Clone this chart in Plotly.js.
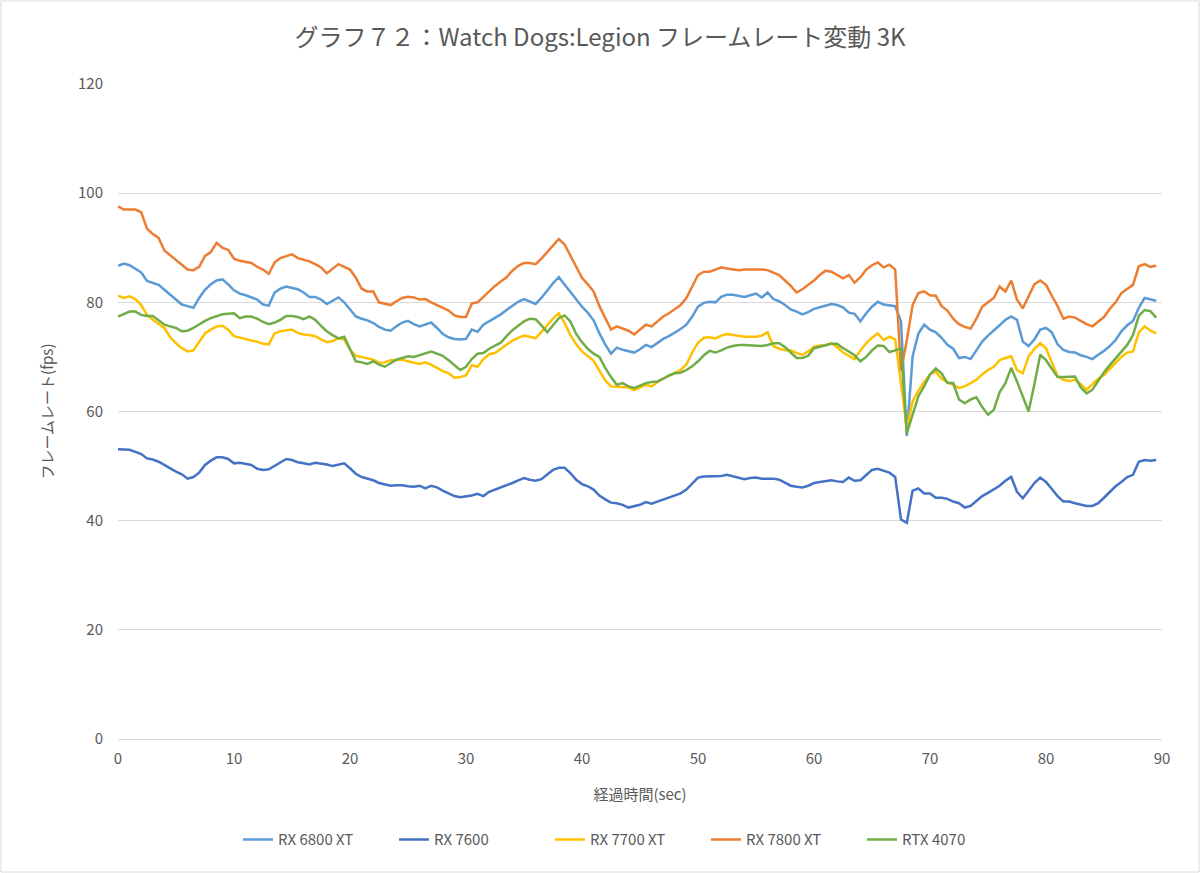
<!DOCTYPE html>
<html>
<head>
<meta charset="utf-8">
<script src="https://cdn.plot.ly/plotly-3.0.1.min.js"></script>
<style>
  html, body { margin: 0; padding: 0; background: #fff; }
  #chart { width: 1200px; height: 873px; }
</style>
</head>
<body>
<div id="chart"></div>
<script>
// Time axis: samples every 0.5 s, from 0 to 89.5 s
const sampleCount = 180;
const sampleStep = 0.5;

const seriesNames = ["RX 6800 XT", "RX 7600", "RX 7700 XT", "RX 7800 XT", "RTX 4070"];

const rx6800xt = [
86.7,87.1,86.8,86.2,85.5,83.9,83.5,83.2,82.3,81.4,
80.6,79.6,79.3,79.0,80.8,82.3,83.3,84.0,84.2,83.3,
82.2,81.6,81.3,80.9,80.5,79.6,79.4,81.8,82.5,82.9,
82.6,82.4,81.8,81.0,81.0,80.5,79.7,80.3,80.9,80.0,
78.8,77.4,77.0,76.7,76.2,75.5,75.0,74.8,75.6,76.3,
76.6,76.0,75.6,75.9,76.3,75.3,74.2,73.6,73.3,73.2,
73.3,75.0,74.6,75.9,76.5,77.2,77.8,78.6,79.4,80.1,
80.6,80.2,79.7,80.8,82.2,83.5,84.6,83.2,81.8,80.5,
79.2,78.1,76.7,74.3,72.3,70.6,71.7,71.3,71.0,70.8,
71.4,72.2,71.8,72.6,73.3,73.8,74.4,75.1,75.9,77.4,
79.2,79.9,80.1,80.0,81.0,81.4,81.4,81.2,81.0,81.3,
81.6,80.9,81.8,80.6,80.2,79.5,78.7,78.3,77.8,78.2,
78.8,79.1,79.4,79.7,79.5,79.1,78.1,77.9,76.5,78.0,
79.2,80.1,79.6,79.4,79.3,76.5,55.5,70.1,74.3,75.9,
75.0,74.5,73.5,72.2,71.5,69.8,70.0,69.6,71.2,72.8,
73.9,74.8,75.8,76.8,77.4,76.8,72.8,72.0,73.2,75.0,
75.3,74.5,72.3,71.3,70.9,70.8,70.3,70.0,69.6,70.4,
71.1,72.0,73.1,74.7,75.8,76.6,79.0,80.8,80.6,80.3
];

const rx7600 = [
53.1,53.1,53.0,52.6,52.2,51.4,51.2,50.8,50.2,49.5,
49.0,48.5,47.7,48.0,48.8,50.2,51.0,51.6,51.6,51.3,
50.5,50.6,50.4,50.2,49.5,49.3,49.4,50.0,50.6,51.3,
51.1,50.7,50.5,50.3,50.6,50.5,50.3,50.0,50.3,50.5,
49.6,48.6,48.0,47.7,47.4,46.9,46.6,46.4,46.5,46.5,
46.3,46.2,46.4,45.9,46.4,46.1,45.5,45.0,44.5,44.3,
44.4,44.6,44.9,44.5,45.3,45.7,46.1,46.4,46.9,47.4,
47.8,47.5,47.3,47.6,48.4,49.3,49.7,49.7,48.7,47.5,
46.7,46.3,45.7,44.6,43.9,43.3,43.2,42.9,42.4,42.7,
42.9,43.4,43.1,43.5,43.9,44.3,44.6,45.0,45.7,46.8,
47.9,48.1,48.1,48.1,48.2,48.4,48.1,47.8,47.6,47.8,
47.9,47.7,47.7,47.7,47.5,47.0,46.4,46.2,46.1,46.4,
46.9,47.1,47.3,47.4,47.2,47.1,47.9,47.3,47.4,48.3,
49.3,49.5,49.1,48.8,48.0,40.2,39.6,45.5,45.9,45.0,
45.0,44.2,44.2,44.0,43.5,43.2,42.4,42.7,43.6,44.5,
45.1,45.7,46.4,47.3,48.0,45.3,44.1,45.5,46.9,47.9,
47.1,45.8,44.5,43.5,43.5,43.2,42.9,42.7,42.7,43.2,
44.2,45.2,46.3,47.1,48.0,48.4,50.8,51.1,51.0,51.1
];

const rx7700xt = [
81.2,80.8,81.1,80.6,79.5,77.7,76.8,76.0,75.3,73.6,
72.5,71.6,71.0,71.2,72.7,74.3,75.0,75.6,75.7,75.0,
73.8,73.5,73.2,73.0,72.8,72.4,72.3,74.3,74.7,74.9,
75.0,74.4,74.1,74.0,73.8,73.2,72.7,72.9,73.4,73.2,
71.3,70.2,70.0,69.8,69.5,68.9,69.0,69.4,69.5,69.5,
69.2,69.0,68.7,69.0,68.6,68.0,67.4,67.0,66.2,66.3,
66.6,68.5,68.2,69.6,70.5,70.7,71.5,72.3,73.0,73.5,
73.9,73.7,73.4,74.6,75.9,77.0,78.0,76.2,74.0,72.3,
71.0,70.2,69.3,67.5,65.7,64.6,64.5,64.5,64.4,63.9,
64.4,64.9,64.6,65.4,66.0,66.6,67.1,67.6,68.6,70.8,
72.6,73.5,73.6,73.4,73.9,74.2,74.0,73.8,73.7,73.7,
73.7,73.9,74.5,72.0,71.5,71.2,71.2,70.7,70.4,71.0,
71.9,72.1,72.2,72.5,71.8,70.8,70.2,69.6,71.2,72.5,
73.5,74.3,73.1,73.7,73.2,65.0,57.0,61.8,63.8,65.4,
66.8,67.3,66.0,65.4,64.8,64.3,64.6,65.2,65.8,66.8,
67.6,68.2,69.4,69.8,70.1,67.6,67.0,70.1,71.5,72.5,
71.6,69.0,66.5,65.8,65.6,65.8,65.0,64.0,65.0,66.0,
66.7,67.8,68.8,70.0,70.8,71.0,74.5,75.6,74.8,74.3
];

const rx7800xt = [
97.6,97.0,97.0,97.0,96.5,93.5,92.5,91.8,89.5,88.6,
87.8,86.8,86.0,85.9,86.5,88.5,89.2,90.9,90.0,89.6,
88.0,87.6,87.4,87.2,86.5,86.0,85.2,87.3,88.1,88.5,
88.8,88.1,87.8,87.5,87.0,86.4,85.3,86.2,87.0,86.5,
86.0,84.5,82.5,82.0,82.0,80.0,79.7,79.5,80.2,80.8,
81.0,80.9,80.5,80.6,80.0,79.5,79.0,78.5,77.6,77.3,
77.3,79.8,80.0,81.0,82.1,83.0,83.8,84.6,85.8,86.7,
87.2,87.2,87.0,88.0,89.2,90.5,91.6,90.6,88.5,86.6,
84.5,83.3,82.0,79.3,77.0,75.0,75.6,75.2,74.8,74.1,
75.0,75.9,75.6,76.5,77.4,78.0,78.7,79.5,80.8,82.8,
85.0,85.6,85.6,86.0,86.4,86.2,86.0,85.9,86.0,86.0,
86.1,86.0,85.9,85.5,85.0,84.0,83.0,81.8,82.4,83.2,
84.0,85.0,85.8,85.6,85.0,84.4,85.0,83.6,84.6,86.0,
86.8,87.3,86.4,86.9,86.0,67.5,73.0,79.5,81.7,82.0,
81.3,81.2,79.3,78.5,77.0,76.0,75.5,75.2,77.0,79.2,
80.0,80.8,82.9,82.0,84.0,80.5,78.9,81.0,83.3,84.0,
83.2,81.2,79.3,77.0,77.4,77.2,76.6,76.0,75.6,76.5,
77.3,78.8,80.0,81.7,82.4,83.2,86.6,87.0,86.5,86.7
];

const rtx4070 = [
77.4,77.9,78.3,78.3,77.7,77.5,77.5,76.7,75.9,75.6,
75.3,74.7,74.8,75.3,76.0,76.6,77.1,77.5,77.8,77.9,
78.0,77.1,77.4,77.4,77.0,76.4,76.0,76.3,76.8,77.5,
77.5,77.3,76.9,77.4,76.8,75.7,74.7,74.0,73.4,73.7,
71.5,69.2,69.0,68.7,69.2,68.6,68.2,68.9,69.5,69.8,
70.1,70.0,70.3,70.6,71.0,70.6,70.2,69.4,68.5,67.6,
68.2,69.6,70.6,70.7,71.5,72.0,72.6,73.8,74.9,75.7,
76.5,77.0,76.9,75.8,74.5,75.8,77.1,77.6,76.5,74.2,
72.7,71.5,70.6,70.0,68.0,66.3,64.9,65.2,64.6,64.3,
64.8,65.2,65.4,65.5,66.0,66.6,67.0,67.1,67.6,68.3,
69.2,70.3,71.1,70.8,71.2,71.7,72.0,72.2,72.2,72.1,
72.1,72.0,72.2,72.5,72.5,71.8,70.8,69.8,69.8,70.2,
71.6,71.9,72.1,72.4,72.4,71.6,71.0,70.3,69.2,70.0,
71.2,72.1,72.0,70.9,71.2,71.6,56.0,59.2,62.8,64.6,
66.8,67.9,67.0,65.2,65.2,62.2,61.5,62.2,62.6,60.8,
59.4,60.3,63.5,65.2,68.0,65.5,62.8,60.0,65.0,70.4,
69.4,67.8,66.3,66.3,66.4,66.4,64.4,63.3,64.0,65.6,
67.2,68.5,69.8,70.9,72.2,74.0,77.5,78.6,78.4,77.2
];

const seriesValues = [rx6800xt, rx7600, rx7700xt, rx7800xt, rtx4070];
const seriesColors = ["#5B9BD5", "#4472C4", "#FFC000", "#ED7D31", "#70AD47"];

const xTickVals = [0, 10, 20, 30, 40, 50, 60, 70, 80, 90];
const yTickVals = [0, 20, 40, 60, 80, 100, 120];

const timeValues = [];
for (let i = 0; i < sampleCount; i++) timeValues.push(i * sampleStep);

const font = '"Noto Sans CJK JP", "Noto Sans", sans-serif';
const textColor = "#595959";

const traces = seriesNames.map((name, i) => ({
  type: "scatter",
  mode: "lines",
  name: name,
  x: timeValues,
  y: seriesValues[i],
  line: { color: seriesColors[i], width: 2.5 },
  hoverinfo: "x+y+name"
}));

const layout = {
  width: 1200,
  height: 873,
  paper_bgcolor: "#ffffff",
  plot_bgcolor: "#ffffff",
  margin: { l: 118, r: 38, t: 84, b: 134 },
  font: { family: font, color: textColor, size: 15 },
  title: {
    text: "グラフ７２：Watch Dogs:Legion フレームレート変動 3K",
    font: { family: font, size: 24, color: textColor },
    x: 0.5,
    xanchor: "center",
    y: 0.957,
    yanchor: "middle"
  },
  xaxis: {
    range: [0, 90],
    tickvals: xTickVals,
    ticktext: xTickVals.map(String),
    showgrid: false,
    zeroline: false,
    showline: true,
    linecolor: "#d9d9d9",
    linewidth: 1,
    ticks: "",
    ticklabelstandoff: 6,
    tickfont: { size: 15, color: textColor },
    title: { text: "経過時間(sec)", font: { size: 15, color: textColor }, standoff: 22 }
  },
  yaxis: {
    range: [0, 120],
    tickvals: yTickVals,
    ticktext: yTickVals.map(String),
    showgrid: true,
    gridcolor: "#d9d9d9",
    gridwidth: 1,
    zeroline: false,
    showline: false,
    ticks: "",
    ticklabelstandoff: 14,
    tickfont: { size: 15, color: textColor },
    title: { text: "フレームレート(fps)", font: { size: 15, color: textColor }, standoff: 20 }
  },
  legend: {
    orientation: "h",
    x: 0.4885,
    xanchor: "center",
    y: -0.154,
    yanchor: "middle",
    font: { size: 15, color: textColor },
    entrywidth: 111,
    entrywidthmode: "pixels",
    tracegroupgap: 0,
    bgcolor: "rgba(0,0,0,0)"
  },
  shapes: [{
    type: "rect",
    xref: "paper", yref: "paper",
    x0: (1 - 118) / 1044, x1: (1199 - 118) / 1044,
    y0: (739 - 872) / 655, y1: (739 - 1) / 655,
    line: { color: "#d9d9d9", width: 1 },
    fillcolor: "rgba(0,0,0,0)",
    layer: "below"
  }],
  showlegend: true
};

Plotly.newPlot("chart", traces, layout, { displayModeBar: false, staticPlot: true });
</script>
</body>
</html>
